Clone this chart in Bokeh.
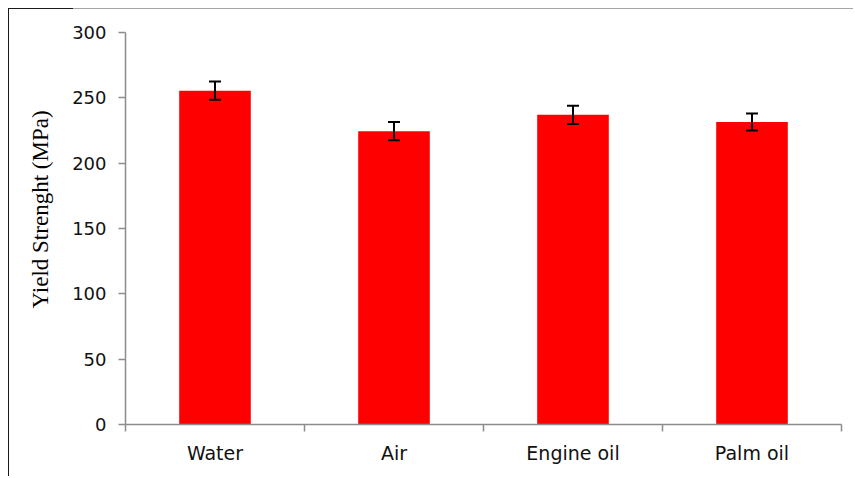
from bokeh.plotting import figure
from bokeh.models import (ColumnDataSource, FixedTicker, Range1d, Whisker, TeeHead, Title)
from bokeh.embed import file_html
from bokeh.resources import INLINE

# ---- data ----
categories = ["Water", "Air", "Engine oil", "Palm oil"]
yield_strength = [255.5, 224.5, 237.0, 231.5]
errors = [7.0, 7.0, 7.0, 6.5]
y_ticks = [0, 50, 100, 150, 200, 250, 300]
y_title = "Yield Strenght (MPa)"

# positions derived from category index
xs = [i + 0.5 for i in range(len(categories))]
src = ColumnDataSource(dict(
    x=xs,
    value=yield_strength,
    upper=[v + e for v, e in zip(yield_strength, errors)],
    lower=[v - e for v, e in zip(yield_strength, errors)],
))

AX = "#8c8c8c"

p = figure(width=845, height=468, output_backend="svg", toolbar_location=None,
           x_range=Range1d(0, len(categories)), y_range=Range1d(y_ticks[0], y_ticks[-1]),
           min_border_left=115, min_border_right=13, min_border_top=23, min_border_bottom=53)
p.styles = {"margin-left": "8px", "margin-top": "8px",
            "border-top": "1px solid #a6a6a6", "border-left": "1px solid #a6a6a6",
            "border-image": "linear-gradient(to right, #1a1a1a 65px, #a6a6a6 65px) 1"}
p.outline_line_color = None
p.xgrid.grid_line_color = None
p.ygrid.grid_line_color = None
p.background_fill_color = "white"
p.border_fill_color = "white"

p.vbar(x="x", top="value", width=0.4, bottom=0, source=src,
       fill_color="#ff0000", line_color=None)

w = Whisker(source=src, base="x", upper="upper", lower="lower",
            line_color="black", line_width=2, level="overlay",
            upper_head=TeeHead(size=12, line_color="black", line_width=2),
            lower_head=TeeHead(size=12, line_color="black", line_width=2))
p.add_layout(w)

# x axis: labels at category centres, ticks at category boundaries
xa = p.xaxis[0]
xa.ticker = FixedTicker(ticks=xs, minor_ticks=list(range(len(categories) + 1)))
xa.major_label_overrides = {x: c for x, c in zip(xs, categories)}
xa.major_tick_line_color = None
xa.major_tick_in = 0
xa.major_tick_out = 0
xa.minor_tick_in = 0
xa.minor_tick_out = 7
xa.minor_tick_line_color = AX
xa.minor_tick_line_width = 1.5
xa.axis_line_color = AX
xa.axis_line_width = 1.5
xa.major_label_standoff = 10
xa.major_label_text_font = "DejaVu Sans"
xa.major_label_text_font_size = "19px"
xa.major_label_text_color = "#111111"

ya = p.yaxis[0]
ya.ticker = FixedTicker(ticks=y_ticks)
ya.minor_tick_line_color = None
ya.major_tick_in = 0
ya.major_tick_out = 7
ya.major_tick_line_color = AX
ya.major_tick_line_width = 1.5
ya.axis_line_color = AX
ya.axis_line_width = 1.5
ya.major_label_standoff = 12
ya.major_label_text_font = "DejaVu Sans"
ya.major_label_text_font_size = "18px"
ya.major_label_text_color = "#111111"

t = Title(text=y_title, align="left", offset=116, standoff=33,
          text_font="Liberation Serif", text_font_size="23px",
          text_font_style="normal", text_color="black")
p.add_layout(t, "left")

open("out.html", "w").write(file_html(p, INLINE))
